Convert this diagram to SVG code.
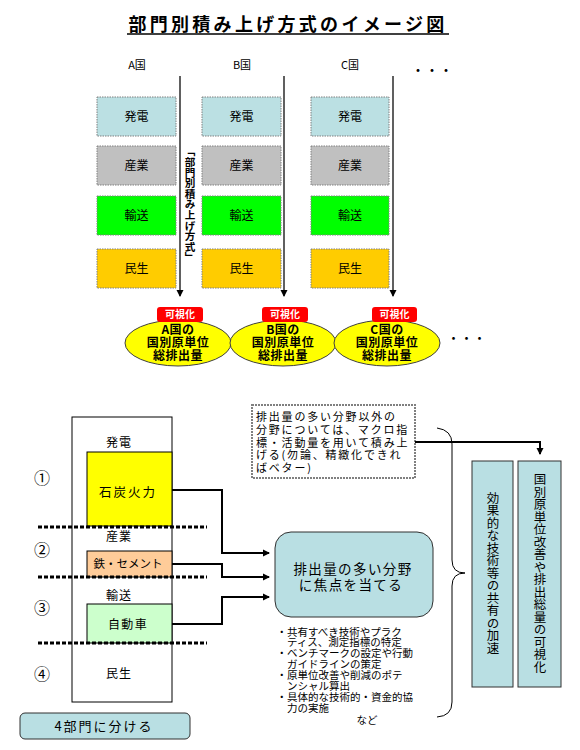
<svg xmlns="http://www.w3.org/2000/svg" width="580" height="750" viewBox="0 0 580 750">
<defs>
<style>
text{font-family:"Noto Sans CJK JP","Liberation Sans",sans-serif;fill:#000}
.sec{stroke:#808080;stroke-width:1;stroke-dasharray:1.5,1}
.lbl{font-size:12px;text-anchor:middle}
.ell{fill:#FFFF00;stroke:#404040;stroke-width:1}
.et{font-size:12px;font-weight:bold;text-anchor:middle;letter-spacing:0.5px}
.vis{fill:#FF0000}
.vt{font-size:10px;font-weight:bold;fill:#fff;text-anchor:middle}
.dash{stroke:#000;stroke-width:3;stroke-dasharray:4,2}
.conn{fill:none;stroke:#000;stroke-width:2}
.vl{stroke:#606060;stroke-width:2}
.teal{fill:#B9DFE3;stroke:#303030;stroke-width:1}
.bl{font-size:10.5px}
</style>
<marker id="ah" markerWidth="8" markerHeight="8" refX="6" refY="4" orient="auto" markerUnits="userSpaceOnUse">
<path d="M0,0.5 L7,4 L0,7.5 Z" fill="#000"/>
</marker>
</defs>
<rect width="580" height="750" fill="#fff"/>

<g id="title">
<text x="288" y="31" font-size="18" font-weight="bold" text-anchor="middle" letter-spacing="3.3">部門別積み上げ方式のイメージ図</text>
<line x1="127" y1="34" x2="449" y2="34" stroke="#000" stroke-width="1.5"/>
</g>

<g id="country-labels" font-size="11">
<text x="137" y="69" text-anchor="middle">A国</text>
<text x="242" y="69" text-anchor="middle">B国</text>
<text x="350" y="69" text-anchor="middle">C国</text>
<text x="411" y="75" font-size="14">・・・</text>
<text x="447" y="343" font-size="13">・・・</text>
</g>

<g id="connectors-top">
<line class="vl" x1="180" y1="76" x2="180" y2="296" marker-end="url(#ah)"/>
<line class="vl" x1="284" y1="76" x2="284" y2="296" marker-end="url(#ah)"/>
<line class="vl" x1="393" y1="76" x2="393" y2="296" marker-end="url(#ah)"/>
</g>

<g id="colA">
<rect class="sec" x="97" y="97" width="79" height="39" fill="#BBE0E3"/><text class="lbl" x="136.5" y="121">発電</text>
<rect class="sec" x="97" y="146" width="79" height="39" fill="#C0C0C0"/><text class="lbl" x="136.5" y="170">産業</text>
<rect class="sec" x="97" y="196" width="79" height="39" fill="#00FF00"/><text class="lbl" x="136.5" y="220">輸送</text>
<rect class="sec" x="97" y="249" width="79" height="39" fill="#FFCC00"/><text class="lbl" x="136.5" y="273">民生</text>
</g>
<g id="colB">
<rect class="sec" x="202" y="97" width="79" height="39" fill="#BBE0E3"/><text class="lbl" x="241.5" y="121">発電</text>
<rect class="sec" x="202" y="146" width="79" height="39" fill="#C0C0C0"/><text class="lbl" x="241.5" y="170">産業</text>
<rect class="sec" x="202" y="196" width="79" height="39" fill="#00FF00"/><text class="lbl" x="241.5" y="220">輸送</text>
<rect class="sec" x="202" y="249" width="79" height="39" fill="#FFCC00"/><text class="lbl" x="241.5" y="273">民生</text>
</g>
<g id="colC">
<rect class="sec" x="311" y="97" width="78" height="39" fill="#BBE0E3"/><text class="lbl" x="350" y="121">発電</text>
<rect class="sec" x="311" y="146" width="78" height="39" fill="#C0C0C0"/><text class="lbl" x="350" y="170">産業</text>
<rect class="sec" x="311" y="196" width="78" height="39" fill="#00FF00"/><text class="lbl" x="350" y="220">輸送</text>
<rect class="sec" x="311" y="249" width="78" height="39" fill="#FFCC00"/><text class="lbl" x="350" y="273">民生</text>
</g>

<g id="method-label">
<text x="190" y="146" font-size="10.6" font-weight="bold" style="writing-mode:vertical-rl">「部門別積み上げ方式」</text>
</g>

<g id="resultA">
<ellipse class="ell" cx="178" cy="343" rx="53" ry="23"/>
<text class="et" x="178" y="334">A国の</text>
<text class="et" x="178" y="347">国別原単位</text>
<text class="et" x="178" y="360">総排出量</text>
<rect class="vis" x="157" y="307" width="46" height="15" rx="3"/>
<text class="vt" x="180" y="318">可視化</text>
</g>
<g id="resultB">
<ellipse class="ell" cx="283" cy="343" rx="53" ry="23"/>
<text class="et" x="283" y="334">B国の</text>
<text class="et" x="283" y="347">国別原単位</text>
<text class="et" x="283" y="360">総排出量</text>
<rect class="vis" x="262" y="307" width="46" height="15" rx="3"/>
<text class="vt" x="285" y="318">可視化</text>
</g>
<g id="resultC">
<ellipse class="ell" cx="387" cy="343" rx="53" ry="23"/>
<text class="et" x="387" y="334">C国の</text>
<text class="et" x="387" y="347">国別原単位</text>
<text class="et" x="387" y="360">総排出量</text>
<rect class="vis" x="372" y="307" width="45" height="15" rx="3"/>
<text class="vt" x="394.5" y="318">可視化</text>
</g>

<g id="sectors">
<rect x="72" y="417" width="100" height="285" fill="#fff" stroke="#000" stroke-width="1"/>
<text x="119" y="447" font-size="12" text-anchor="middle" letter-spacing="1">発電</text>
<rect x="87" y="452" width="85" height="74" fill="#FFFF00" stroke="#000" stroke-width="1"/>
<text x="128" y="497" font-size="12.5" text-anchor="middle" letter-spacing="2">石炭火力</text>
<text x="119" y="541" font-size="12" text-anchor="middle" letter-spacing="1">産業</text>
<rect x="87" y="551" width="85" height="26" fill="#FFCC99" stroke="#000" stroke-width="1"/>
<text x="128" y="568" font-size="11.5" text-anchor="middle">鉄・セメント</text>
<text x="119" y="600" font-size="12" text-anchor="middle" letter-spacing="1">輸送</text>
<rect x="87" y="604" width="85" height="39" fill="#CCFFCC" stroke="#000" stroke-width="1"/>
<text x="128" y="629" font-size="12" text-anchor="middle" letter-spacing="1.3">自動車</text>
<text x="119" y="678" font-size="12" text-anchor="middle" letter-spacing="1">民生</text>
<line class="dash" x1="38" y1="527" x2="207" y2="527"/>
<line class="dash" x1="38" y1="577" x2="207" y2="577"/>
<line class="dash" x1="38" y1="643" x2="207" y2="643"/>
<g font-size="16" text-anchor="middle">
<text x="42" y="484">①</text>
<text x="42" y="556">②</text>
<text x="42" y="614">③</text>
<text x="42" y="680">④</text>
</g>
</g>

<g id="split-label">
<rect class="teal" x="20" y="713" width="170" height="26" rx="5"/>
<text x="104" y="731" font-size="13" text-anchor="middle" letter-spacing="2">4部門に分ける</text>
</g>

<g id="focus">
<rect class="teal" x="275" y="532" width="158" height="85" rx="16"/>
<text x="353" y="574" font-size="13.5" text-anchor="middle" letter-spacing="1.4">排出量の多い分野</text>
<text x="351" y="590" font-size="13.5" text-anchor="middle" letter-spacing="1.4">に焦点を当てる</text>
</g>

<g id="bullets" class="bl">
<text x="276.5" y="636"><tspan>・</tspan><tspan x="287">共有すべき技術やプラク</tspan></text>
<text x="287" y="646">ティス、測定指標の特定</text>
<text x="276.5" y="657"><tspan>・</tspan><tspan x="287">ベンチマークの設定や行動</tspan></text>
<text x="287" y="668">ガイドラインの策定</text>
<text x="276.5" y="679"><tspan>・</tspan><tspan x="287">原単位改善や削減のポテ</tspan></text>
<text x="287" y="690">ンシャル算出</text>
<text x="276.5" y="701"><tspan>・</tspan><tspan x="287">具体的な技術的・資金的協</tspan></text>
<text x="287" y="712">力の実施</text>
<text x="367" y="724" text-anchor="middle">など</text>
</g>

<g id="macro-note">
<rect x="252" y="405" width="163" height="73" fill="#fff" stroke="#808080" stroke-width="2" stroke-dasharray="2,1"/>
<g font-size="11" letter-spacing="1.8">
<text x="256" y="421">排出量の多い分野以外の</text>
<text x="256" y="434">分野については、マクロ指</text>
<text x="256" y="447">標・活動量を用いて積み上</text>
<text x="256" y="459">げる(勿論、精緻化できれ</text>
<text x="256" y="472">ばベター)</text>
</g>
</g>

<g id="brace">
<path d="M437,428 Q452,430 452,444 L452,560 Q452,573 465,573 Q452,573 452,586 L452,702 Q452,716 437,717" fill="none" stroke="#000" stroke-width="1"/>
</g>

<g id="outcome1">
<rect class="teal" x="472" y="461" width="41" height="226"/>
<text x="493" y="573" font-size="12.5" text-anchor="middle" style="writing-mode:vertical-rl">効果的な技術等の共有の加速</text>
</g>
<g id="outcome2">
<rect class="teal" x="518" y="461" width="43" height="226"/>
<text x="540" y="573" font-size="12.5" text-anchor="middle" style="writing-mode:vertical-rl">国別原単位改善や排出総量の可視化</text>
</g>

<g id="connectors">
<path class="conn" d="M172,490 H222 V553 H269" marker-end="url(#ah)"/>
<path class="conn" d="M172,564 H222 V577 H269" marker-end="url(#ah)"/>
<path class="conn" d="M172,624 H222 V597 H269" marker-end="url(#ah)"/>
<path class="conn" d="M415,442 H540 V454" marker-end="url(#ah)"/>
</g>
</svg>
